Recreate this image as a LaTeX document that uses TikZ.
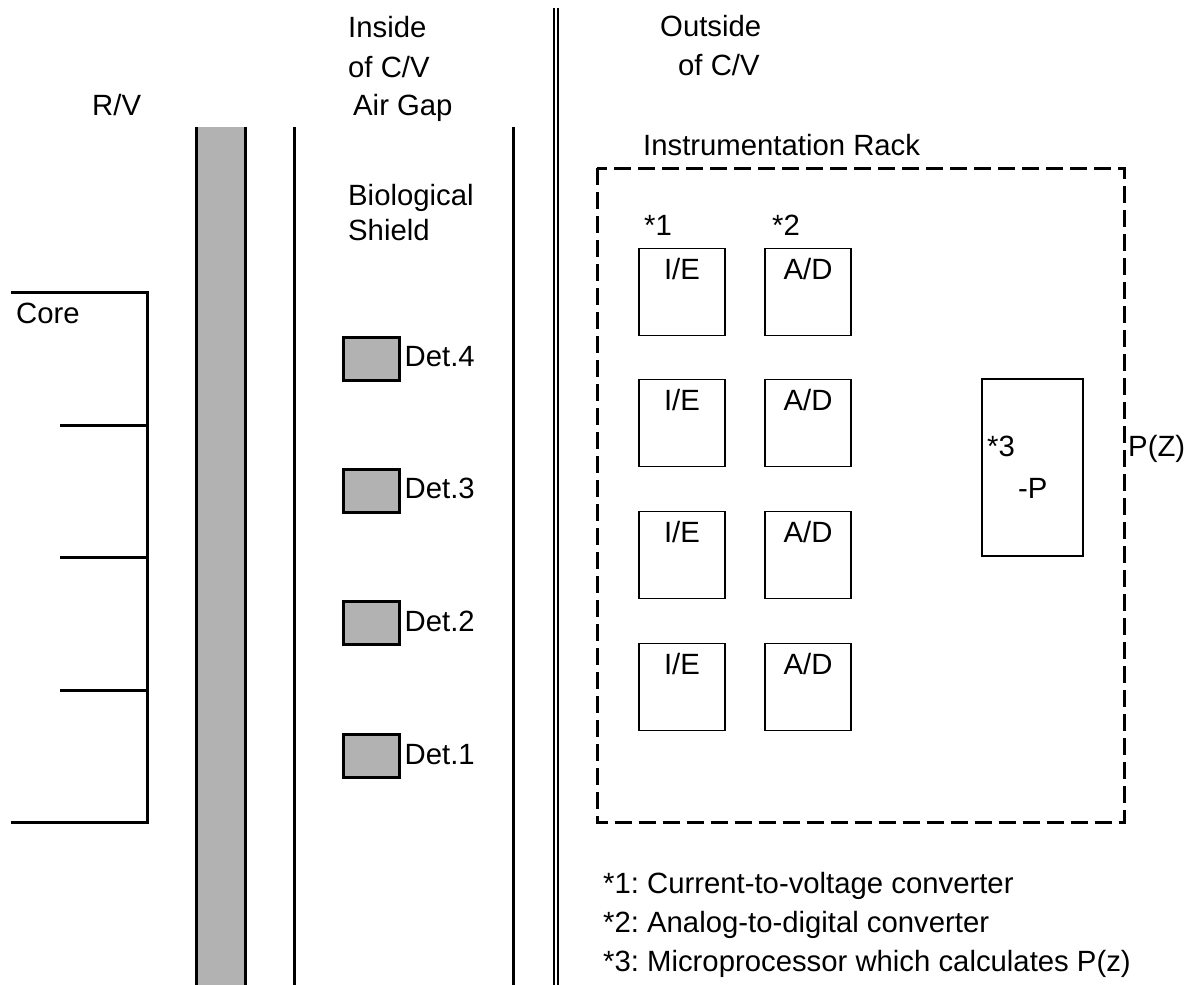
\documentclass[tikz,border=0pt]{standalone}
\usepackage{fontspec}
\setmainfont{Liberation Sans}
\frenchspacing
\begin{document}
\begin{tikzpicture}[x=1pt,y=-1pt,
  txt/.style={font=\fontsize{29.3}{34}\selectfont\frenchspacing, inner sep=0pt, anchor=base west},
  ctxt/.style={font=\fontsize{29.3}{34}\selectfont, inner sep=0pt, anchor=base},
  thickline/.style={line width=3pt},
  det/.style={draw, line width=3pt, fill=gray!60, minimum width=56pt, minimum height=43pt, inner sep=0pt},
  unit/.style={draw, line width=1.6pt, minimum width=86pt, minimum height=87pt, inner sep=0pt},
  rack/.style={draw, line width=3pt, dash pattern=on 17pt off 7pt}]
\useasboundingbox (0,0) rectangle (1194,985);
% vessel wall
\fill[gray!60] (196,127) rectangle (245,985);
\draw[thickline] (196,127) -- (196,985);
\draw[thickline] (245,127) -- (245,985);
\draw[thickline] (294,127) -- (294,985);
\draw[thickline] (513,127) -- (513,985);
\draw[line width=1.3pt] (554,8) -- (554,985);
\draw[line width=1.3pt] (558,8) -- (558,985);
% core
\draw[thickline] (11,292) -- (147,292) -- (147,822) -- (11,822);
\draw[thickline] (60,425) -- (147,425);
\draw[thickline] (60,557) -- (147,557);
\draw[thickline] (60,690) -- (147,690);
\node[txt] (core) at (16,323) {Core};
% labels top
\node[txt] (rv) at (92,115) {R/V};
\node[txt] (in1) at (348,37) {Inside};
\node[txt] (in2) at (348,77) {of C/V};
\node[txt] (in3) at (353,115) {Air Gap};
\node[txt] (bio1) at (348,205) {Biological};
\node[txt] (bio2) at (348,240) {Shield};
\node[txt] (out1) at (660,36) {Outside};
\node[txt] (out2) at (678,75) {of C/V};
\node[txt] (rackl) at (643,155) {Instrumentation Rack};
% detectors
\node[det] (d4) at (371,358.5) {};
\node[det] (d3) at (371,490.5) {};
\node[det] (d2) at (371,623) {};
\node[det] (d1) at (371,756) {};
\node[txt] at ([xshift=4pt,yshift=-8pt]d4.east) {Det.4};
\node[txt] at ([xshift=4pt,yshift=-8pt]d3.east) {Det.3};
\node[txt] at ([xshift=4pt,yshift=-8pt]d2.east) {Det.2};
\node[txt] at ([xshift=4pt,yshift=-8pt]d1.east) {Det.1};
% rack
\draw[rack] (597,168) rectangle (1124,822);
\node[txt] (s1) at (644,235) {*1};
\node[txt] (s2) at (772,235) {*2};
\foreach \i/\y in {1/292,2/423,3/555,4/687}{
  \node[unit] (ie\i) at (682,\y) {};
  \node[unit] (ad\i) at (808,\y) {};
  \node[ctxt] at ([yshift=-32pt]ie\i.north) {I/E};
  \node[ctxt] at ([yshift=-32pt]ad\i.north) {A/D};
}
\node[draw, line width=1.6pt, minimum width=101pt, minimum height=177pt, inner sep=0pt] (mp) at (1032.5,467.5) {};
\node[txt] (s3) at (987,456) {*3};
\node[txt] (mpP) at (1018,498) {-P};
\node[txt] (pz) at (1128,456) {P(Z)};
% footnotes
\node[txt] (f1) at (603,893) {*1: Current-to-voltage converter};
\node[txt] (f2) at (603,932) {*2: Analog-to-digital converter};
\node[txt] (f3) at (603,971) {*3: Microprocessor which calculates P(z)};
\end{tikzpicture}
\end{document}
